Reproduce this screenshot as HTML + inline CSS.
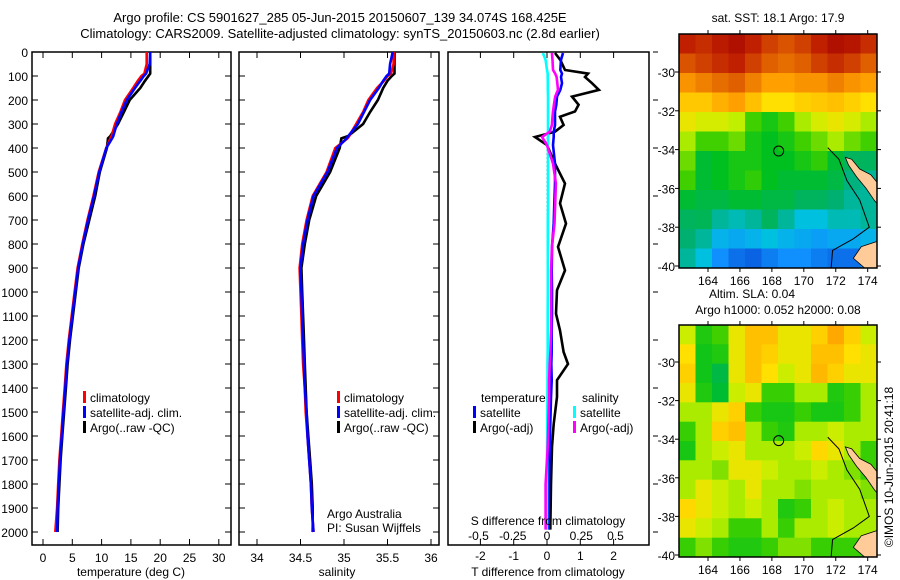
<!DOCTYPE html>
<html><head><meta charset="utf-8">
<style>
html,body{margin:0;padding:0;background:#fff;}
svg{display:block;font-family:"Liberation Sans",sans-serif;}
text{font-size:12px;fill:#000;}
</style></head>
<body>
<svg id="fig" width="900" height="580" viewBox="0 0 900 580" xmlns="http://www.w3.org/2000/svg">
<text x="340" y="22" text-anchor="middle" style="font-size:13px">Argo profile: CS 5901627_285 05-Jun-2015 20150607_139 34.074S 168.425E</text>
<text x="340" y="38" text-anchor="middle" style="font-size:13px">Climatology: CARS2009. Satellite-adjusted climatology: synTS_20150603.nc (2.8d earlier)</text>
<text x="778" y="22" text-anchor="middle">sat. SST: 18.1  Argo: 17.9</text>
<text x="752" y="298" text-anchor="middle">Altim. SLA: 0.04</text>
<text x="778" y="314" text-anchor="middle">Argo h1000: 0.052 h2000: 0.08</text>
<text transform="translate(893,467) rotate(-90)" text-anchor="middle">©IMOS 10-Jun-2015 20:41:18</text>
<g id="g"></g>
</svg>
<script>
// ---- depth axis ticks
const depthTicks = [0,100,200,300,400,500,600,700,800,900,1000,1100,1200,1300,1400,1500,1600,1700,1800,1900,2000];
const tempTicks = [0,5,10,15,20,25,30];
const salTicks = [34,34.5,35,35.5,36];
const salTickLabels = ["34","34.5","35","35.5","36"];
const tdTicks = [-2,-1,0,1,2];
const sdTicks = [-0.5,-0.25,0,0.25,0.5];
const sdTickLabels = ["-0.5","-0.25","0","0.25","0.5"];

// ---- profiles
const profDepth = [0,50,90,100,120,150,200,250,300,350,360,400,500,600,700,800,900,1000,1100,1200,1300,1400,1500,1600,1700,1800,1900,2000];
const argoT = [18.3,18.3,18.3,18.0,17.4,16.6,14.8,13.8,12.8,11.5,11.1,10.9,9.7,8.9,7.9,6.9,6.1,5.6,5.1,4.6,4.2,3.9,3.6,3.3,3.0,2.8,2.6,2.5];
const climT = [17.7,17.7,17.3,16.8,16.2,15.4,14.0,13.2,12.3,11.7,11.5,10.8,9.5,8.6,7.6,6.7,5.9,5.4,4.9,4.4,4.0,3.7,3.4,3.1,2.8,2.6,2.4,2.1];
const satT = [18.3,18.2,17.6,17.2,16.6,15.7,14.3,13.4,12.6,12.0,11.8,10.8,9.6,8.7,7.7,6.8,6.0,5.5,5.0,4.5,4.1,3.8,3.5,3.2,2.9,2.7,2.5,2.4];
const argoS = [35.58,35.58,35.58,35.55,35.5,35.45,35.39,35.3,35.22,35.05,34.97,34.95,34.84,34.68,34.6,34.55,34.51,34.52,34.53,34.54,34.55,34.56,34.57,34.59,34.61,34.63,34.64,34.64];
const climS = [35.57,35.57,35.54,35.5,35.46,35.38,35.28,35.22,35.14,35.06,35.04,34.9,34.8,34.64,34.57,34.52,34.49,34.5,34.51,34.52,34.53,34.55,34.56,34.58,34.6,34.62,34.63,34.65];
const satS = [35.56,35.53,35.52,35.49,35.45,35.4,35.3,35.23,35.16,35.05,35.03,34.92,34.81,34.65,34.58,34.53,34.5,34.51,34.52,34.53,34.54,34.55,34.57,34.58,34.6,34.62,34.63,34.65];

// ---- differences
const diffDepth = [4,33,75,90,104,130,158,186,220,248,270,304,332,354,388,465,548,631,715,812,910,992,1090,1160,1250,1300,1367,1437,1550,1645,1800,1990];
const argoTd = [0.24,0.4,0.54,1.23,1.14,1.35,1.56,0.75,0.95,0.84,0.39,0.5,0.24,-0.36,0,0.24,0.54,0.39,0.57,0.33,0.54,0.3,0.27,0.39,0.5,0.63,0.3,0.3,0.2,0.15,0.12,0.1];
const satTd = [0.48,0.42,0.4,0.45,0.42,0.45,0.4,0.3,0.28,0.24,0.24,0.24,0.2,0.2,0.18,0.24,0.24,0.22,0.2,0.15,0.14,0.15,0.15,0.14,0.14,0.13,0.14,0.12,0.1,0.08,0.06,0.05];
const satSd = [-0.03,-0.01,0,0.005,0.005,0.006,0.006,0.007,0.007,0.007,0.007,0.007,0.007,0.007,0.007,0.007,0.007,0.007,0.006,0.006,0.006,0.006,0.005,0.005,0.005,0.004,0.004,0.003,0.002,0.001,0,0];
const argoSd = [0.036,0.04,0.044,0.06,0.07,0.075,0.08,0.06,0.05,0.044,0.04,0.036,0.02,-0.036,0,0.044,0.065,0.06,0.055,0.036,0.03,0.03,0.03,0.03,0.025,0.02,0.015,0.015,0.01,0.005,-0.01,-0.01];

// ---- maps (rows north->south, cols west->east), normalised colour value 0..1
const sstGrid = [
[0.9,0.88,0.92,0.95,0.9,0.85,0.82,0.85,0.9,0.95,0.93,0.88],
[0.82,0.85,0.88,0.9,0.85,0.8,0.78,0.8,0.85,0.88,0.85,0.8],
[0.72,0.75,0.78,0.8,0.75,0.7,0.7,0.72,0.72,0.75,0.72,0.7],
[0.65,0.65,0.68,0.7,0.66,0.62,0.62,0.64,0.65,0.66,0.64,0.62],
[0.6,0.58,0.58,0.56,0.5,0.45,0.5,0.55,0.58,0.6,0.58,0.55],
[0.55,0.5,0.5,0.52,0.45,0.42,0.45,0.5,0.52,0.55,0.52,0.5],
[0.52,0.4,0.42,0.45,0.45,0.42,0.42,0.45,0.48,0.4,0.35,0.35],
[0.5,0.4,0.42,0.45,0.48,0.42,0.4,0.4,0.4,0.38,0.32,0.3],
[0.4,0.38,0.38,0.4,0.4,0.38,0.38,0.35,0.35,0.33,0.3,0.3],
[0.35,0.36,0.3,0.28,0.3,0.35,0.3,0.25,0.25,0.28,0.28,0.3],
[0.33,0.3,0.22,0.2,0.22,0.25,0.22,0.2,0.18,0.2,0.2,0.22],
[0.3,0.25,0.15,0.1,0.08,0.12,0.15,0.15,0.12,0.1,0.1,0.15]];
const slaGrid = [
[0.57,0.46,0.5,0.6,0.66,0.66,0.6,0.6,0.64,0.69,0.64,0.57],
[0.62,0.44,0.46,0.6,0.66,0.64,0.6,0.6,0.66,0.66,0.62,0.6],
[0.64,0.44,0.38,0.6,0.66,0.62,0.57,0.6,0.67,0.64,0.6,0.6],
[0.6,0.46,0.4,0.57,0.6,0.49,0.49,0.55,0.55,0.46,0.49,0.55],
[0.55,0.55,0.6,0.64,0.49,0.45,0.45,0.49,0.45,0.45,0.49,0.55],
[0.49,0.55,0.64,0.66,0.55,0.49,0.46,0.55,0.55,0.57,0.55,0.55],
[0.45,0.55,0.57,0.6,0.55,0.55,0.55,0.57,0.63,0.6,0.55,0.49],
[0.55,0.55,0.53,0.6,0.6,0.57,0.55,0.55,0.57,0.55,0.53,0.49],
[0.55,0.6,0.57,0.55,0.6,0.55,0.55,0.53,0.55,0.55,0.55,0.53],
[0.63,0.6,0.57,0.55,0.57,0.55,0.46,0.49,0.55,0.57,0.55,0.55],
[0.6,0.57,0.55,0.49,0.49,0.55,0.49,0.55,0.55,0.57,0.55,0.55],
[0.49,0.53,0.49,0.46,0.46,0.49,0.53,0.53,0.49,0.49,0.49,0.49]];
const lonTicks = [164,166,168,170,172,174];
const latTicks = [-30,-32,-34,-36,-38,-40];
const argoLon = 168.425, argoLat = -34.074;
const coastLon = [171.5,172.2,172.7,173.5,174.1,173.1,171.8,171.7];
const coastLat = [-33.9,-34.5,-35.6,-36.6,-38.0,-38.6,-39.2,-40.2];
const landLon = [172.6,173.0,173.5,174.2,174.7,174.7,174.4,173.9,173.3,172.8];
const landLat = [-34.4,-34.5,-35.0,-35.3,-35.8,-36.9,-36.6,-36.0,-35.4,-34.8];
const land2Lon = [173.6,174.7,174.7,173.8,173.1];
const land2Lat = [-39.0,-38.7,-40.1,-40.1,-39.6];

const NS="http://www.w3.org/2000/svg";
const root=document.getElementById('g');
function mk(tag,attrs,parent){const e=document.createElementNS(NS,tag);for(const k in attrs)e.setAttribute(k,attrs[k]);(parent||root).appendChild(e);return e;}
function txt(x,y,s,anchor,parent){const t=mk('text',{x:x,y:y,'text-anchor':anchor||'start'},parent);t.textContent=s;return t;}

const Y0=52, PY=0.24;
const yD=d=>Y0+d*PY;
const xT=v=>43+v*5.86;
const xS=v=>257+(v-34)*87;
const xTd=v=>547+v*33.3;
const xSd=v=>547+v*137;

function panel(x0,x1,name,leftLabels){
  const g=mk('g',{});
  
  
  const r=mk('rect',{x:x0,y:Y0,width:x1-x0,height:545-Y0,fill:'none',stroke:'#000','stroke-width':1.5},g);
  
  
  depthTicks.forEach(d=>{
    mk('line',{x1:x0,x2:x0+6,y1:yD(d),y2:yD(d),stroke:'#000'},g);
    mk('line',{x1:x1,x2:x1-6,y1:yD(d),y2:yD(d),stroke:'#000'},g);
    if(leftLabels){const t=txt(28,yD(d)+5,String(d),'end',g);
      
      }
  });
  return g;
}
function line(g,xs,ys,fx,color,name,w){
  const pts=xs.map((v,i)=>fx(v).toFixed(1)+','+yD(ys[i]).toFixed(1)).join(' ');
  const p=mk('polyline',{points:pts,fill:'none',stroke:color,'stroke-width':w||2.6,'stroke-linejoin':'miter'},g);
  
  
}
function legendEntry(g,x,y,color,label,name){
  mk('rect',{x:x,y:y-11,width:3,height:12,fill:color},g);
  const t=txt(x+7,y,label,'start',g);
  
  
}

// Panel 1 temperature
const p1=panel(32,231,'temperature-panel',true);
tempTicks.forEach(v=>{
  mk('line',{x1:xT(v),x2:xT(v),y1:Y0,y2:Y0+6,stroke:'#000'},p1);
  mk('line',{x1:xT(v),x2:xT(v),y1:545,y2:539,stroke:'#000'},p1);
  const t=txt(xT(v),562,String(v),'middle',p1);
  
  
});
line(p1,argoT,profDepth,xT,'#000','argo-temperature-line');
line(p1,climT,profDepth,xT,'#f00','climatology-temperature-line');
line(p1,satT,profDepth,xT,'#00f','satellite-temperature-line');
legendEntry(p1,83,402,'#f00','climatology','legend-climatology');
legendEntry(p1,83,417,'#00f','satellite-adj. clim.','legend-satellite');
legendEntry(p1,83,432,'#000','Argo(..raw -QC)','legend-argo');
{const t=txt(131,576,'temperature (deg C)','middle',p1);}

// Panel 2 salinity
const p2=panel(239,439,'salinity-panel',false);
salTicks.forEach((v,i)=>{
  mk('line',{x1:xS(v),x2:xS(v),y1:Y0,y2:Y0+6,stroke:'#000'},p2);
  mk('line',{x1:xS(v),x2:xS(v),y1:545,y2:539,stroke:'#000'},p2);
  const t=txt(xS(v),562,salTickLabels[i],'middle',p2);
  
  
});
line(p2,argoS,profDepth,xS,'#000','argo-salinity-line');
line(p2,climS,profDepth,xS,'#f00','climatology-salinity-line');
line(p2,satS,profDepth,xS,'#00f','satellite-salinity-line');
legendEntry(p2,337,402,'#f00','climatology','legend-climatology-2');
legendEntry(p2,337,417,'#00f','satellite-adj. clim.','legend-satellite-2');
legendEntry(p2,337,432,'#000','Argo(..raw -QC)','legend-argo-2');
{const t=txt(327,518,'Argo Australia','start',p2);}
{const t=txt(327,532,'PI: Susan Wijffels','start',p2);}
{const t=txt(337,576,'salinity','middle',p2);}

// Panel 3 differences
const p3=mk('g',{});


mk('rect',{x:448,y:Y0,width:201,height:545-Y0,fill:'none',stroke:'#000','stroke-width':1.5},p3);
depthTicks.forEach(d=>{ if((d/100)%2===0) mk('line',{x1:653,x2:658,y1:yD(d),y2:yD(d),stroke:'#000'},p3); });
tdTicks.forEach(v=>{
  mk('line',{x1:xTd(v),x2:xTd(v),y1:Y0,y2:Y0+6,stroke:'#000'},p3);
  mk('line',{x1:xTd(v),x2:xTd(v),y1:545,y2:539,stroke:'#000'},p3);
  const t=txt(xTd(v),560,String(v),'middle',p3);
  
  
});
sdTicks.forEach((v,i)=>{
  const t=txt(xSd(v),540,sdTickLabels[i],'middle',p3);
  
  
});
mk('line',{x1:547,x2:547,y1:yD(340),y2:yD(1950),stroke:'#000','stroke-dasharray':'1,3','stroke-width':1},p3);
line(p3,argoTd,diffDepth,xTd,'#000','argo-t-diff-line');
line(p3,satTd,diffDepth,xTd,'#00f','satellite-t-diff-line');
line(p3,satSd,diffDepth,xSd,'#0ff','satellite-s-diff-line');
line(p3,argoSd,diffDepth,xSd,'#f0f','argo-s-diff-line');
{const t=txt(481,402,'temperature','start',p3);}
{const t=txt(582,402,'salinity','start',p3);}
legendEntry(p3,473,417,'#00f','satellite','legend-t-satellite');
legendEntry(p3,473,432,'#000','Argo(-adj)','legend-t-argo');
legendEntry(p3,573,417,'#0ff','satellite','legend-s-satellite');
legendEntry(p3,573,432,'#f0f','Argo(-adj)','legend-s-argo');
{const t=txt(548,525,'S difference from climatology','middle',p3);}
{const t=txt(548,576,'T difference from climatology','middle',p3);}

// colour map
const cStops=[[0,[0,48,192]],[0.15,[16,144,255]],[0.25,[0,192,224]],[0.33,[0,176,112]],[0.42,[0,192,32]],[0.5,[64,208,0]],[0.56,[192,240,0]],[0.62,[255,224,0]],[0.7,[255,160,0]],[0.8,[224,96,0]],[0.9,[192,32,0]],[1,[160,0,0]]];
function cmap(v){for(let i=1;i<cStops.length;i++){if(v<=cStops[i][0]){const a=cStops[i-1],b=cStops[i];const f=(v-a[0])/(b[0]-a[0]);const c=a[1].map((x,k)=>Math.round(x+(b[1][k]-x)*f));return 'rgb('+c.join(',')+')';}}return 'rgb(160,0,0)';}

function drawMap(top,lat30y,lat40y,grid,name){
  const L=679,R=877,B=lat40y+2;
  const ppd=(lat40y-lat30y)/10;
  const fy=lat=>lat30y+(-30-lat)*ppd;
  const fx=lon=>708+(lon-164)*15.97;
  const g=mk('g',{});
  
  
  const cid='clip-'+name;
  const cp=mk('clipPath',{id:cid},g);mk('rect',{x:L,y:top,width:R-L,height:B-top},cp);
  const cg=mk('g',{'clip-path':'url(#'+cid+')'},g);
  const rows=grid.length, cols=grid[0].length;
  const latTop=-30+(lat30y-top)/ppd, latBot=-40-(B-lat40y)/ppd;
  const lonL=164+(L-708)/15.97, lonR=164+(R-708)/15.97;
  const dLat=(latTop-latBot)/rows, dLon=(lonR-lonL)/cols;
  grid.forEach((row,r)=>row.forEach((v,c)=>{
    const x=fx(lonL+c*dLon), y=fy(latTop-r*dLat);
    const cell=mk('rect',{x:x.toFixed(1),y:y.toFixed(1),width:(dLon*15.97+0.6).toFixed(1),height:(dLat*ppd+0.6).toFixed(1),fill:cmap(v)},cg);
    
    
  }));
  mk('polygon',{points:landLon.map((v,i)=>fx(v)+','+fy(landLat[i])).join(' '),fill:'#fc9',stroke:'#000','stroke-width':0.8},cg);
  mk('polygon',{points:land2Lon.map((v,i)=>fx(v)+','+fy(land2Lat[i])).join(' '),fill:'#fc9',stroke:'#000','stroke-width':0.8},cg);
  mk('polyline',{points:coastLon.map((v,i)=>fx(v)+','+fy(coastLat[i])).join(' '),fill:'none',stroke:'#000','stroke-width':1},cg);
  const c=mk('circle',{cx:fx(argoLon),cy:fy(argoLat),r:5,fill:'none',stroke:'#000','stroke-width':1},g);
  
  
  mk('rect',{x:L,y:top,width:R-L,height:B-top,fill:'none',stroke:'#000','stroke-width':1.5},g);
  lonTicks.forEach(v=>{
    mk('line',{x1:fx(v),x2:fx(v),y1:top,y2:top-4,stroke:'#000'},g);
    mk('line',{x1:fx(v),x2:fx(v),y1:B,y2:B+4,stroke:'#000'},g);
    const t=txt(fx(v),B+17,String(v),'middle',g);
    
    
  });
  latTicks.forEach(v=>{
    mk('line',{x1:L,x2:L-4,y1:fy(v),y2:fy(v),stroke:'#000'},g);
    mk('line',{x1:R,x2:R+4,y1:fy(v),y2:fy(v),stroke:'#000'},g);
    const t=txt(L-4,fy(v)+5,String(v),'end',g);
    
    
  });
}
drawMap(34,72,266,sstGrid,'sst-map');
drawMap(325,362,555,slaGrid,'sla-map');
</script>
</body></html>
